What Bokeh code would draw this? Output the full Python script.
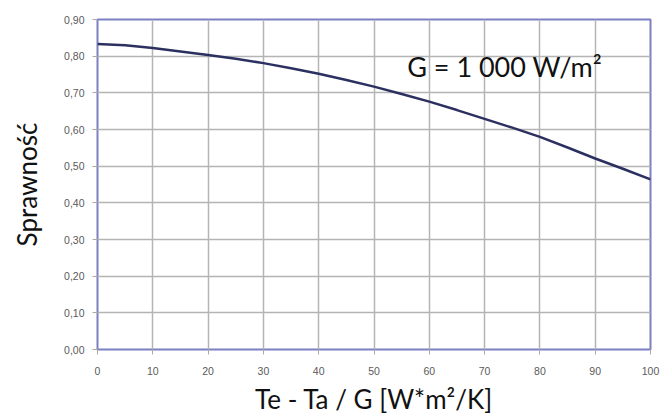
from bokeh.plotting import figure
from bokeh.models import FixedTicker, CustomJSTickFormatter, Label, Range1d
from bokeh.embed import file_html
from bokeh.resources import INLINE

# data
x_vals = [0, 5, 10, 15, 20, 25, 30, 35, 40, 45, 50, 55, 60, 65, 70, 75, 80, 85, 90, 95, 100]
eff = [0.833, 0.830, 0.822, 0.813, 0.803, 0.793, 0.781, 0.767, 0.752, 0.735, 0.717,
       0.697, 0.676, 0.653, 0.629, 0.605, 0.580, 0.551, 0.521, 0.493, 0.464]
x_ticks = [0, 10, 20, 30, 40, 50, 60, 70, 80, 90, 100]
y_ticks = [0.0, 0.1, 0.2, 0.3, 0.4, 0.5, 0.6, 0.7, 0.8, 0.9]
annotation = "G = 1 000 W/m²"
x_title = "Te - Ta / G [W*m²/K]"
y_title = "Sprawność"

p = figure(width=660, height=417, output_backend="svg", toolbar_location=None,
           x_range=Range1d(0, 100), y_range=Range1d(0, 0.9),
           min_border_left=97, min_border_right=10, min_border_top=19, min_border_bottom=67)
p.background_fill_color = "white"
p.border_fill_color = "white"
p.outline_line_color = "#7c80c2"
p.outline_line_width = 2

p.line(x_vals, eff, line_color="#2c3060", line_width=2.5)

for ax in (p.xaxis[0], p.yaxis[0]):
    ax.axis_line_color = None
    ax.major_tick_line_color = "#b0a8a0"
    ax.major_tick_in = 0
    ax.major_tick_out = 5
    ax.minor_tick_line_color = None
    ax.major_label_text_font = "Liberation Sans"
    ax.major_label_text_font_size = "10.5px"
    ax.major_label_text_color = "#5a5a5a"
    ax.axis_label_text_font = "Lato"
    ax.axis_label_text_font_style = "normal"
    ax.axis_label_text_font_size = "26px"
    ax.axis_label_text_color = "#111111"

p.xaxis.ticker = FixedTicker(ticks=x_ticks)
p.yaxis.ticker = FixedTicker(ticks=y_ticks)
p.yaxis.formatter = CustomJSTickFormatter(code="return tick.toFixed(2).replace('.', ',');")
p.xaxis.formatter = CustomJSTickFormatter(code="return tick.toFixed(0);")
p.xaxis.major_label_standoff = 12
p.yaxis.major_label_standoff = 8
p.xaxis.axis_label = x_title
p.yaxis.axis_label = y_title
p.xaxis.axis_label_standoff = 5
p.yaxis.axis_label_standoff = 18

p.xgrid.ticker = FixedTicker(ticks=x_ticks)
p.ygrid.ticker = FixedTicker(ticks=y_ticks)
p.grid.grid_line_color = "#b4b4b4"
p.grid.grid_line_width = 1.5

p.add_layout(Label(x=56, y=0.772, text=annotation, text_font="Lato",
                   text_font_size="27px", text_color="#111111",
                   text_baseline="alphabetic"))

open("out.html", "w").write(file_html(p, INLINE))
